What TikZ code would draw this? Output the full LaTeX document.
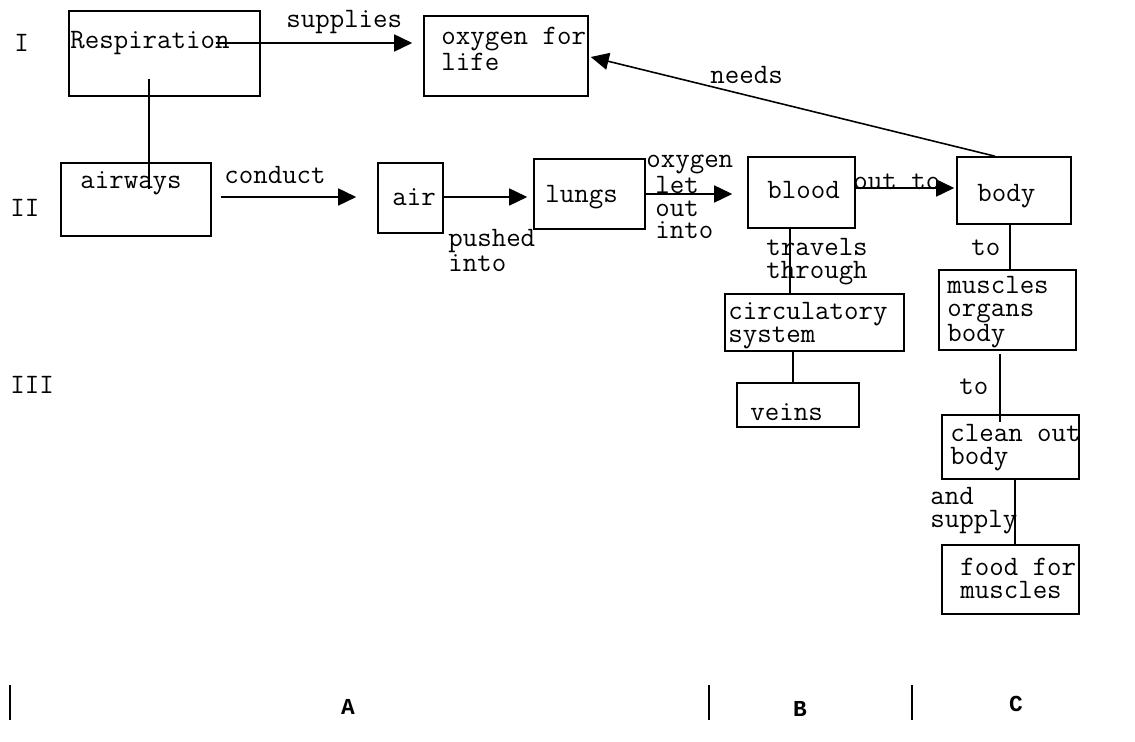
\documentclass[tikz,border=0pt]{standalone}
\usepackage{fontspec}
\newfontfamily\abcfont{Liberation Mono}
\usetikzlibrary{calc,arrows.meta,positioning}
\newcommand{\pxu}{0.02cm}

\begin{document}
\begin{tikzpicture}[x=0.02cm, y=-0.02cm,
    box/.style={draw, line width=0.9pt, inner sep=0pt},
    txt/.style={font=\fontsize{16}{13}\selectfont\ttfamily, inner sep=0pt, align=left},
    link/.style={line width=0.9pt},
    flow/.style={line width=0.9pt, -{Triangle[length=0.36cm, width=0.34cm]}},
    tag/.style={font=\abcfont\bfseries\fontsize{13}{13}\selectfont, inner sep=0pt}]
    \useasboundingbox (0,0) rectangle (1135,742);
    % boxes
    \node[box, minimum width=191*\pxu, minimum height=85*\pxu] (resp) at (164.5,53.5) {};
    \node[box, minimum width=164*\pxu, minimum height=80*\pxu] (oxy) at (506,56) {};
    \node[box, minimum width=150*\pxu, minimum height=73*\pxu] (airw) at (136,199.5) {};
    \node[box, minimum width=65*\pxu, minimum height=70*\pxu] (air) at (410.5,198) {};
    \node[box, minimum width=111*\pxu, minimum height=70*\pxu] (lungs) at (589.5,194) {};
    \node[box, minimum width=107*\pxu, minimum height=71*\pxu] (blood) at (801.5,192.5) {};
    \node[box, minimum width=114*\pxu, minimum height=67*\pxu] (body) at (1014,190.5) {};
    \node[box, minimum width=137*\pxu, minimum height=80*\pxu] (musc) at (1007.5,310) {};
    \node[box, minimum width=137*\pxu, minimum height=64*\pxu] (clean) at (1010.5,447) {};
    \node[box, minimum width=137*\pxu, minimum height=69*\pxu] (food) at (1010.5,579.5) {};
    \node[box, minimum width=179*\pxu, minimum height=57*\pxu] (circ) at (814.5,322.5) {};
    \node[box, minimum width=122*\pxu, minimum height=44*\pxu] (veins) at (798,405) {};
    % texts in the boxes
    \node[txt, anchor=west] (respT) at (70,43) {Respiration};
    \node[txt, anchor=north west] (oxyT) at (441,27) {oxygen for\\life};
    \node[txt, anchor=west] (airwT) at (80,183) {airways};
    \node[txt, anchor=west] (airT) at (392,197) {air};
    \node[txt, anchor=west] (lungsT) at (545,197) {lungs};
    \node[txt, anchor=west] (bloodT) at (767,190) {blood};
    \node[txt, anchor=west] (bodyT) at (977,196) {body};
    \node[txt, anchor=north west] (muscT) at (947,276) {muscles\\organs\\body};
    \node[txt, anchor=north west] (cleanT) at (950,424) {clean out\\body};
    \node[txt, anchor=north west] (foodT) at (960,558) {food for\\muscles};
    \node[txt, anchor=north west] (circT) at (728,302) {circulatory\\system};
    \node[txt, anchor=west] (veinsT) at (750,412) {veins};
    % link words
    \node[txt, anchor=west] (supL) at (286,22) {supplies};
    \node[txt, anchor=west] (needL) at (710,75) {needs};
    \node[txt, anchor=west] (condL) at (224,175) {conduct};
    \node[txt, anchor=north west] (pushL) at (448,229) {pushed\\into};
    \node[txt, anchor=north west] (letL) at (646,155)
        {oxygen\\\hspace*{0.18cm}let\\\hspace*{0.18cm}out\\\hspace*{0.18cm}into};
    \node[txt, anchor=west] (outL) at (853,182) {out to};
    \node[txt, anchor=north west] (travL) at (766,238) {travels\\through};
    \node[txt, anchor=west] (toL) at (971,248) {to};
    \node[txt, anchor=west] (toL2) at (959,387) {to};
    \node[txt, anchor=north west] (andL) at (930,487) {and\\supply};
    % levels
    \node[txt, anchor=west] (lvlI) at (14,43) {I};
    \node[txt, anchor=west] (lvlII) at (10,208) {II};
    \node[txt, anchor=west] (lvlIII) at (10,385) {III};
    % connectors
    \draw[flow] ($(resp.east)+(-45,-10.5)$) -- ($(oxy.west)+(-11,-13)$);
    \draw[flow] ($(body.north)+(-19,0)$) -- ($(oxy.east)+(2,1)$);
    \draw[link] ($(resp.south)+(-15.5,-18)$) -- ($(airw.north)+(13,27)$);
    \draw[flow] ($(airw.east)+(9,-2.5)$) -- ($(air.west)+(-21,-1)$);
    \draw[flow] ($(air.east)+(0,-1)$) -- ($(lungs.west)+(-6,3)$);
    \draw[flow] ($(lungs.east)+(0,0)$) -- ($(blood.west)+(-15,1.5)$);
    \draw[flow] ($(blood.east)+(0,-4.5)$) -- ($(body.west)+(-2,-2.5)$);
    \draw[link] ($(body.south)+(-4,0)$) -- ($(musc.north)+(2.5,0)$);
    \draw[link] ($(musc.south)+(-7.5,3)$) -- ($(clean.north)+(-10.5,8)$);
    \draw[link] ($(clean.south)+(4.5,0)$) -- ($(food.north)+(4.5,0)$);
    \draw[link] ($(blood.south)+(-11.5,0)$) -- ($(circ.north)+(-24.5,0)$);
    \draw[link] ($(circ.south)+(-21.5,0)$) -- ($(veins.north)+(-5,0)$);
    % columns
    \draw[link] (10,685) -- (10,720);
    \draw[link] (709,685) -- (709,720);
    \draw[link] (912,685) -- (912,720);
    \node[tag] (colA) at (348,707) {A};
    \node[tag] (colB) at (800,709) {B};
    \node[tag] (colC) at (1016,704) {C};
\end{tikzpicture}
\end{document}
